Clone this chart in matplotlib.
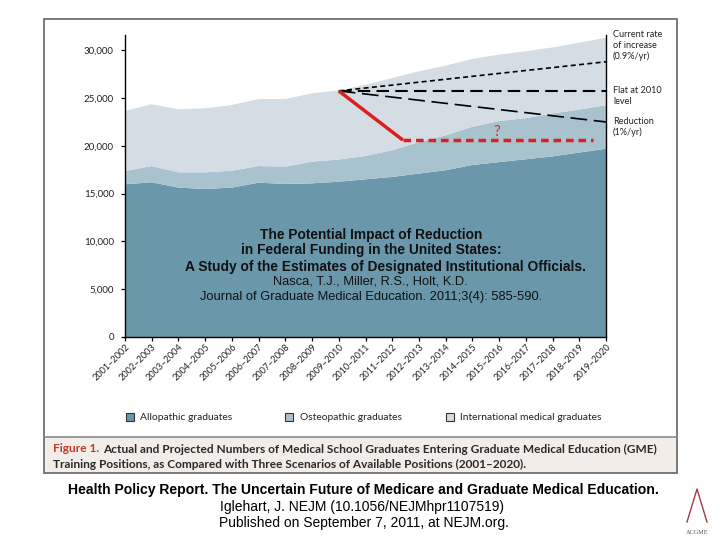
import matplotlib
matplotlib.use("Agg")
import matplotlib.pyplot as plt
from matplotlib.patches import Rectangle
from matplotlib.lines import Line2D
import numpy as np

# ---------------- data ----------------
years = ["2001–2002", "2002–2003", "2003–2004", "2004–2005", "2005–2006", "2006–2007",
         "2007–2008", "2008–2009", "2009–2010", "2010–2011", "2011–2012", "2012–2013",
         "2013–2014", "2014–2015", "2015–2016", "2016–2017", "2017–2018", "2018–2019",
         "2019–2020"]
allopathic = [15980, 16190, 15630, 15490, 15630, 16150, 16010, 16080, 16250, 16500,
              16750, 17100, 17450, 18000, 18300, 18600, 18900, 19300, 19700]
osteopathic = [1390, 1700, 1600, 1740, 1770, 1740, 1810, 2270, 2320, 2440,
               2800, 3300, 3650, 4000, 4300, 4300, 4500, 4500, 4550]
international = [6280, 6460, 6600, 6700, 6880, 7010, 7080, 7150, 7230, 7450,
                 7550, 7400, 7300, 7100, 6950, 7000, 6900, 7000, 7050]
series_names = ["Allopathic graduates", "Osteopathic graduates", "International medical graduates"]

scen_x = [8, 18]
scen_current = [25750, 28800]
scen_flat = [25750, 25750]
scen_reduction = [25750, 22500]
red_solid_x = [8, 10.4]
red_solid_y = [25750, 20600]
red_dash_x = [10.4, 17.5]
red_dash_y = [20600, 20600]

scen_labels = ["Current rate\nof increase\n(0.9%/yr)", "Flat at 2010\nlevel", "Reduction\n(1%/yr)"]

yticks = [0, 5000, 10000, 15000, 20000, 25000, 30000]

colors = ["#6a97aa", "#a8c2ce", "#d3dde3"]

W, H = 720, 540
fig = plt.figure(figsize=(W / 100, H / 100), dpi=100)
fig.patch.set_facecolor("white")

def fx(x):
    return x / W

def fy(y):
    return 1 - y / H

LBL = ["Lato", "DejaVu Sans"]
ARL = ["Liberation Sans", "DejaVu Sans"]

# frame and caption box
fig.add_artist(Rectangle((fx(44), fy(473)), fx(677) - fx(44), fy(437) - fy(473),
                         transform=fig.transFigure, facecolor="#f2ede8", edgecolor="none", zorder=0))
fig.add_artist(Rectangle((fx(44), fy(473)), fx(677) - fx(44), fy(18.5) - fy(473),
                         transform=fig.transFigure, facecolor="none", edgecolor="#707070",
                         linewidth=1.3, zorder=5))
fig.add_artist(Line2D([fx(44), fx(677)], [fy(437), fy(437)], transform=fig.transFigure,
                      color="#8a8a8a", linewidth=1.2, zorder=5))

ax = fig.add_axes([fx(125), fy(337), fx(606) - fx(125), fy(35) - fy(337)])
x = np.arange(len(years))
ax.stackplot(x, allopathic, osteopathic, international, colors=colors, linewidth=0)

ax.plot(scen_x, scen_current, color="black", lw=1.2, dashes=(3, 2))
ax.plot(scen_x, scen_flat, color="black", lw=1.5, dashes=(6, 3))
ax.plot(scen_x, scen_reduction, color="black", lw=1.2, dashes=(10, 4))
ax.plot(red_solid_x, red_solid_y, color="#dc1f1f", lw=2.5, solid_capstyle="butt")
ax.plot(red_dash_x, red_dash_y, color="#dc1f1f", lw=2.5, dashes=(2.2, 1.4))
ax.text(13.9, 21400, "?", color="#d42a2a", fontsize=11, ha="center", va="center", family=LBL)

ax.set_xlim(0, 18)
ax.set_ylim(0, 31600)
ax.spines["top"].set_visible(False)
for s in ["left", "right", "bottom"]:
    ax.spines[s].set_color("black")
    ax.spines[s].set_linewidth(1.0)
ax.set_yticks(yticks)
ax.set_yticklabels([f"{v:,}" for v in yticks], family=LBL, fontsize=7, color="#222222")
ax.set_xticks(x)
ax.set_xticklabels(years, rotation=45, ha="right", rotation_mode="anchor",
                   family=LBL, fontsize=6.6, color="#222222")
ax.tick_params(axis="both", length=3, width=0.9, color="black", pad=2)
ax.tick_params(axis="y", pad=5)
ax.tick_params(axis="x", pad=1)
ax.set_facecolor("white")

# scenario labels
for lbl, y in zip(scen_labels, [36, 92, 123]):
    fig.text(fx(613), fy(y - 6), lbl, family=LBL, fontsize=6.6, color="#222222",
             ha="left", va="top", linespacing=1.25)

# overlay texts
overlay = [
    ("The Potential Impact of Reduction", 371, 235.5, "bold", 9.9),
    ("in Federal Funding in the United States:", 371, 250, "bold", 9.9),
    ("A Study of the Estimates of Designated Institutional Officials.", 385, 266.5, "bold", 9.9),
    ("Nasca, T.J., Miller, R.S., Holt, K.D.", 370, 282, "normal", 9.3),
    ("Journal of Graduate Medical Education. 2011;3(4): 585-590.", 371, 297, "normal", 9.3),
]
for t, xx, yy, w, fs in overlay:
    fig.text(fx(xx), fy(yy), t, family=ARL, fontsize=fs, fontweight=w, color="#111111",
             ha="center", va="center")

# legend
leg_pos = [(130, 140), (289, 300), (450, 460)]
for (sq, tx), name, c in zip(leg_pos, series_names, colors):
    fig.add_artist(Rectangle((fx(sq - 4), fy(421)), 8 / W, 8 / H, transform=fig.transFigure,
                             facecolor=c, edgecolor="#333333", linewidth=0.8))
    fig.text(fx(tx), fy(417), name, family=LBL, fontsize=7.4, color="#222222",
             ha="left", va="center")

# caption
renderer = fig.canvas.get_renderer()
cap_fs = 8.6
t1 = fig.text(fx(53), fy(449), "Figure 1.", family=LBL, fontsize=cap_fs, fontweight="bold",
              color="#c0392b", ha="left", va="center")
bb = t1.get_window_extent(renderer=renderer)
x_next = (bb.x1 + 4) / fig.bbox.width
fig.text(x_next, fy(449),
         "Actual and Projected Numbers of Medical School Graduates Entering Graduate Medical Education (GME)",
         family=LBL, fontsize=cap_fs, fontweight="bold", color="#2a2a2a", ha="left", va="center")
fig.text(fx(53), fy(464),
         "Training Positions, as Compared with Three Scenarios of Available Positions (2001–2020).",
         family=LBL, fontsize=cap_fs, fontweight="bold", color="#2a2a2a", ha="left", va="center")

# bottom source text
fig.text(fx(363), fy(490),
         "Health Policy Report. The Uncertain Future of Medicare and Graduate Medical Education.",
         family=ARL, fontsize=10.1, fontweight="bold", color="black", ha="center", va="center")
fig.text(fx(362), fy(507), "Iglehart, J. NEJM (10.1056/NEJMhpr1107519)",
         family=ARL, fontsize=10.0, color="black", ha="center", va="center")
fig.text(fx(364), fy(523), "Published on September 7, 2011, at NEJM.org.",
         family=ARL, fontsize=10.0, color="black", ha="center", va="center")

# small ACGME mark
fig.add_artist(Line2D([fx(687), fx(697), fx(707)], [fy(522), fy(489), fy(522)],
                      transform=fig.transFigure, color="#a33a45", linewidth=1.0))
fig.text(fx(697), fy(532), "ACGME", family=["Liberation Serif", "DejaVu Serif"], fontsize=4.5,
         color="#555555", ha="center", va="center")

fig.savefig("out.png", dpi=100)
